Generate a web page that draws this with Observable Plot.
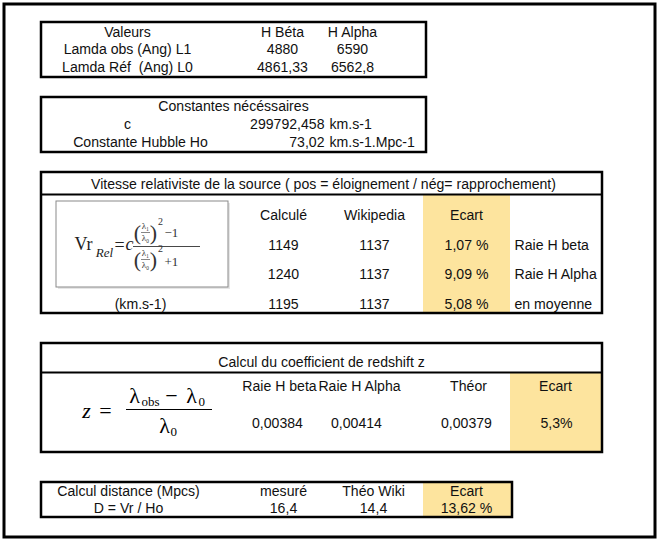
<!DOCTYPE html>
<html>
<head>
<meta charset="utf-8">
<script src="https://cdn.jsdelivr.net/npm/d3@7"></script>
<script src="https://cdn.jsdelivr.net/npm/@observablehq/plot@0.6"></script>
<style>
  html, body { margin: 0; padding: 0; background: #fff; }
  #chart svg { display: block; }
</style>
</head>
<body>
<div id="chart"></div>
<script>
// ---------- DATA ----------
const t1Header = ["Valeurs", "H Béta", "H Alpha"];
const t1Labels = ["Lamda obs (Ang) L1", "Lamda Réf  (Ang) L0"];
const hBeta = ["4880", "4861,33"];
const hAlpha = ["6590", "6562,8"];

const t2Title = "Constantes nécéssaires";
const constNames = ["c", "Constante Hubble Ho"];
const constValues = ["299792,458", "73,02"];
const constUnits = ["km.s-1", "km.s-1.Mpc-1"];

const t3Title = "Vitesse relativiste de la source ( pos = éloignement / nég= rapprochement)";
const t3Cols = ["Calculé", "Wikipedia", "Ecart"];
const vCalc = ["1149", "1240", "1195"];
const vWiki = ["1137", "1137", "1137"];
const vEcart = ["1,07 %", "9,09 %", "5,08 %"];
const vNotes = ["Raie H beta", "Raie H Alpha", "en moyenne"];
const vUnit = "(km.s-1)";

const t4Title = "Calcul du coefficient de redshift z";
const zCols = ["Raie H beta", "Raie H Alpha", "Théor", "Ecart"];
const zValues = ["0,00384", "0,00414", "0,00379", "5,3%"];

const t5Labels = ["Calcul distance (Mpcs)", "D = Vr / Ho"];
const dCols = ["mesuré", "Théo Wiki", "Ecart"];
const dValues = ["16,4", "14,4", "13,62 %"];

// ---------- LAYOUT (sheet geometry) ----------
const W = 660, H = 543;
const frame = {x1: 4, x2: 655, y1: 4, y2: 537};
const boxes = [
  {x1: 41, x2: 426, y1: 22, y2: 77},
  {x1: 41, x2: 426, y1: 97, y2: 152},
  {x1: 41, x2: 602, y1: 172, y2: 313},
  {x1: 41, x2: 602, y1: 343, y2: 452},
  {x1: 41, x2: 512, y1: 482, y2: 517}
];
const highlights = [
  {x1: 423, x2: 510, y1: 194, y2: 313},
  {x1: 510, x2: 601, y1: 372, y2: 451},
  {x1: 423, x2: 511, y1: 483, y2: 516}
];
const separators = [
  {x1: 41, x2: 602, y: 194},
  {x1: 41, x2: 602, y: 372}
];
const formulaBox = {x1: 56, x2: 228, y1: 201, y2: 287};

// ---------- CELLS ----------
const center = [], left = [], right = [];
// table 1
const t1Y = [32, 49, 67], t1X = [127, 282, 352];
t1Header.forEach((t, i) => center.push({x: t1X[i], y: t1Y[0], t}));
t1Labels.forEach((t, r) => {
  center.push({x: t1X[0], y: t1Y[r + 1], t});
  center.push({x: t1X[1], y: t1Y[r + 1], t: hBeta[r]});
  center.push({x: t1X[2], y: t1Y[r + 1], t: hAlpha[r]});
});
// table 2
const t2Y = [106, 124, 142];
center.push({x: 233, y: t2Y[0], t: t2Title});
constNames.forEach((t, r) => {
  center.push({x: r === 0 ? 127 : 140, y: t2Y[r + 1], t});
  right.push({x: 324, y: t2Y[r + 1], t: constValues[r]});
  left.push({x: 329, y: t2Y[r + 1], t: constUnits[r]});
});
// table 3
const t3X = [283, 374, 466], t3Y = [245, 274, 304];
center.push({x: 323, y: 184, t: t3Title});
t3Cols.forEach((t, i) => center.push({x: t3X[i], y: 215, t}));
vCalc.forEach((t, r) => {
  center.push({x: t3X[0], y: t3Y[r], t});
  center.push({x: t3X[1], y: t3Y[r], t: vWiki[r]});
  center.push({x: t3X[2], y: t3Y[r], t: vEcart[r]});
  left.push({x: 514, y: t3Y[r], t: vNotes[r]});
});
center.push({x: 140, y: 304, t: vUnit});
// table 4
const t4HX = [279, 359, 468, 555], t4VX = [277, 356, 466, 556];
center.push({x: 321, y: 362, t: t4Title});
zCols.forEach((t, i) => center.push({x: t4HX[i], y: 386, t}));
zValues.forEach((t, i) => center.push({x: t4VX[i], y: 423, t}));
// table 5
const t5X = [283, 373, 466];
t5Labels.forEach((t, r) => center.push({x: 128, y: 491 + 17 * r, t}));
dCols.forEach((t, i) => center.push({x: t5X[i], y: 491, t}));
dValues.forEach((t, i) => center.push({x: t5X[i], y: 508, t}));

// ---------- FORMULAS (serif math) ----------
const serif = "Liberation Serif, Times New Roman, serif";
const f1Main = [{x: 83, y: 244, t: "Vr"}, {x: 119, y: 245, t: "="}];
const f1Ital = [{x: 129, y: 244, t: "c"}];
const f1Sub = [{x: 104, y: 252, t: "Rel"}];
const f1Paren = [
  {x: 137, y: 232, t: "("}, {x: 153, y: 232, t: ")"},
  {x: 137, y: 259, t: "("}, {x: 153, y: 259, t: ")"}
];
const f1Small = [
  {x: 145, y: 226, t: "λ₁"}, {x: 145, y: 238, t: "λ₀"},
  {x: 145, y: 253, t: "λ₁"}, {x: 145, y: 265, t: "λ₀"}
];
const f1Sup = [{x: 160, y: 221, t: "2"}, {x: 160, y: 248, t: "2"}];
const f1Ops = [{x: 164, y: 232, t: "−1"}, {x: 164, y: 261, t: "+1"}];
const f1Bars = [
  {x1: 133, x2: 200, y: 246, w: 0.9},
  {x1: 141, x2: 150, y: 232, w: 0.6},
  {x1: 141, x2: 150, y: 259, w: 0.6}
];

const f2Ital = [{x: 86, y: 410, t: "z"}];
const f2Main = [{x: 105, y: 410, t: "="}, {x: 171, y: 395, t: "−"}];
const f2Lambda = [{x: 134, y: 395, t: "λ"}, {x: 191, y: 395, t: "λ"}, {x: 164, y: 425, t: "λ"}];
const f2Subs = [{x: 141, y: 401, t: "obs"}, {x: 198, y: 401, t: "0"}, {x: 170, y: 431, t: "0"}];
const f2Bars = [{x1: 126, x2: 212, y: 409, w: 1}];

const sans = "Liberation Sans, Arial, sans-serif";
const base = {x: "x", y: "y", text: "t", fill: "#111", fontFamily: sans, fontSize: 15, lineAnchor: "middle"};
const math = {x: "x", y: "y", text: "t", fontFamily: serif, lineAnchor: "middle"};

const chart = Plot.plot({
  width: W, height: H, margin: 0,
  x: {domain: [0, W], range: [0, W], axis: null},
  y: {domain: [0, H], range: [0, H], axis: null},
  style: {background: "#fff"},
  marks: [
    Plot.rect(highlights, {x1: "x1", x2: "x2", y1: "y1", y2: "y2", fill: "#fde49e"}),
    Plot.rect([frame], {x1: "x1", x2: "x2", y1: "y1", y2: "y2", fill: "none", stroke: "#000", strokeWidth: 3}),
    Plot.rect(boxes, {x1: "x1", x2: "x2", y1: "y1", y2: "y2", fill: "none", stroke: "#000", strokeWidth: 2.5}),
    Plot.ruleY(separators, {x1: "x1", x2: "x2", y: "y", stroke: "#000", strokeWidth: 2}),
    // formula 1 picture frame with soft shadow
    Plot.rect([formulaBox], {x1: d => d.x1 + 2, x2: d => d.x2 + 2, y1: d => d.y1 + 2, y2: d => d.y2 + 2, fill: "#e6e6e6"}),
    Plot.rect([formulaBox], {x1: "x1", x2: "x2", y1: "y1", y2: "y2", fill: "#fff", stroke: "#8a8a8a", strokeWidth: 1}),
    Plot.text(center, {...base, textAnchor: "middle"}),
    Plot.text(left, {...base, textAnchor: "start"}),
    Plot.text(right, {...base, textAnchor: "end"}),
    // formula 1
    Plot.text(f1Main, {...math, fontSize: 18, fill: "#222"}),
    Plot.text(f1Ital, {...math, fontSize: 18, fontStyle: "italic", fill: "#222"}),
    Plot.text(f1Sub, {...math, fontSize: 13, fontStyle: "italic", fill: "#222"}),
    Plot.text(f1Paren, {...math, fontSize: 22, fill: "#333"}),
    Plot.text(f1Small, {...math, fontSize: 9, fill: "#333"}),
    Plot.text(f1Sup, {...math, fontSize: 10, fill: "#333"}),
    Plot.text(f1Ops, {...math, fontSize: 13, fill: "#333", textAnchor: "start"}),
    Plot.ruleY(f1Bars, {x1: "x1", x2: "x2", y: "y", strokeWidth: "w", stroke: "#333"}),
    // formula 2
    Plot.text(f2Ital, {...math, fontSize: 22, fontStyle: "italic", fill: "#000"}),
    Plot.text(f2Main, {...math, fontSize: 22, fill: "#000"}),
    Plot.text(f2Lambda, {...math, fontSize: 22, fill: "#000"}),
    Plot.text(f2Subs, {...math, fontSize: 13, fill: "#000", textAnchor: "start"}),
    Plot.ruleY(f2Bars, {x1: "x1", x2: "x2", y: "y", strokeWidth: "w", stroke: "#000"})
  ]
});
// condense the sheet's sans text slightly (Excel rendering is narrow and tall)
d3.select(chart).selectAll("g[font-family^='Liberation Sans'] text").each(function() {
  const t = this.getAttribute("transform") || "";
  this.setAttribute("transform", t + " scale(0.94,1)");
});
document.getElementById("chart").appendChild(chart);
</script>
</body>
</html>
